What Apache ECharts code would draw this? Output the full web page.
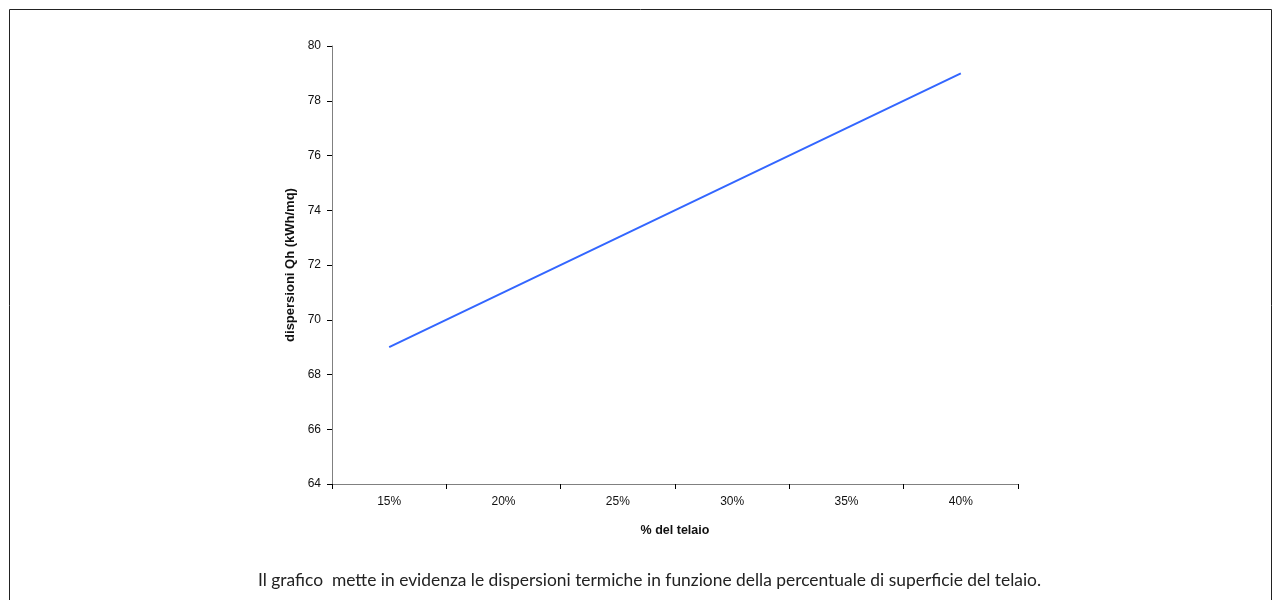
<!DOCTYPE html>
<html>
<head>
<meta charset="utf-8">
<script src="https://cdn.jsdelivr.net/npm/echarts@6/dist/echarts.min.js"></script>
<style>
  html, body { margin: 0; padding: 0; background: #fff; }
  #chart { width: 1281px; height: 600px; }
</style>
</head>
<body>
<div id="chart"></div>
<script>
// % del telaio vs dispersioni Qh (kWh/mq)
const categories = ['15%', '20%', '25%', '30%', '35%', '40%'];
const dispersioni = [69, 71, 73, 75, 77, 79];
const yMin = 64, yMax = 80, yStep = 2;

const myChart = echarts.init(document.getElementById('chart'));
const labelFont = { fontFamily: '"Liberation Sans", Arial, sans-serif', fontSize: 12, color: '#111' };

myChart.setOption({
  animation: false,
  graphic: [{
    type: 'rect',
    shape: { x: 9.5, y: 9.5, width: 1262, height: 620 },
    style: { fill: 'none', stroke: '#222', lineWidth: 1 },
    silent: true
  }, {
    type: 'text',
    left: 258,
    top: 572,
    style: {
      text: 'Il grafico  mette in evidenza le dispersioni termiche in funzione della percentuale di superficie del telaio.',
      font: '17.4px Lato, "Open Sans", sans-serif',
      fill: '#222'
    }
  }],
  grid: { left: 332, right: 263, top: 46, bottom: 116 },
  xAxis: {
    type: 'category',
    data: categories,
    boundaryGap: true,
    name: '% del telaio',
    nameLocation: 'middle',
    nameGap: 40,
    nameTextStyle: Object.assign({}, labelFont, { fontWeight: 'bold', fontSize: 12.5 }),
    axisLine: { lineStyle: { color: '#808080', width: 1 } },
    axisTick: { show: true, length: 5, lineStyle: { color: '#000' } },
    axisLabel: Object.assign({ margin: 12 }, labelFont)
  },
  yAxis: {
    type: 'value',
    min: yMin,
    max: yMax,
    interval: yStep,
    name: 'dispersioni Qh (kWh/mq)',
    nameLocation: 'middle',
    nameGap: 31,
    nameTextStyle: Object.assign({}, labelFont, { fontWeight: 'bold', fontSize: 13 }),
    axisLine: { show: true, lineStyle: { color: '#808080', width: 1 } },
    axisTick: { show: true, length: 5, lineStyle: { color: '#000' } },
    splitLine: { show: false },
    axisLabel: Object.assign({ margin: 11 }, labelFont)
  },
  series: [{
    type: 'line',
    data: dispersioni,
    symbol: 'none',
    lineStyle: { color: '#3366ff', width: 2 }
  }]
});
</script>
</body>
</html>
